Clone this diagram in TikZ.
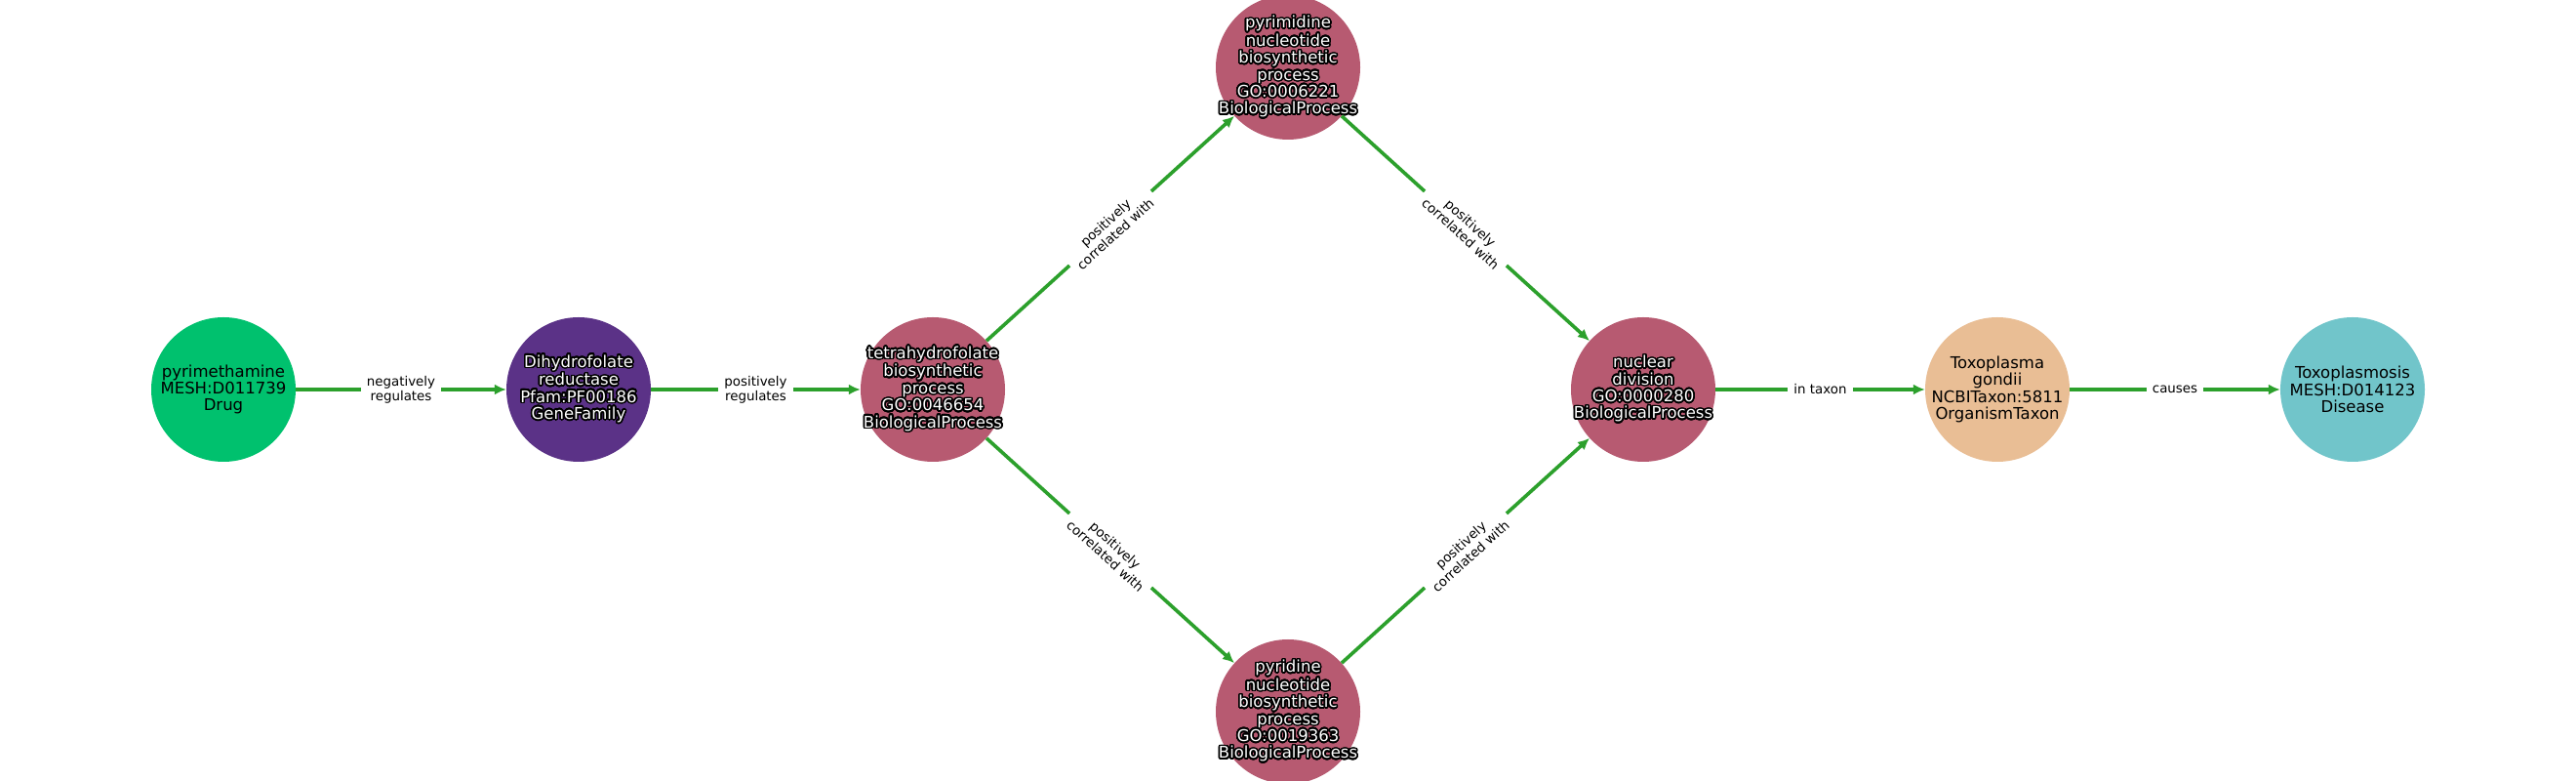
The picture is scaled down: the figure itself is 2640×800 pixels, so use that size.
\documentclass[tikz,border=0pt]{standalone}
\usepackage{fontspec}
\setmainfont{DejaVu Sans}
\usepackage{contour}
\contourlength{1.6pt}
\contournumber{32}
\usetikzlibrary{arrows.meta}
\definecolor{edgegreen}{HTML}{2CA02C}
\definecolor{drugc}{HTML}{00C16E}
\definecolor{genec}{HTML}{5B3287}
\definecolor{bioc}{HTML}{B75A71}
\definecolor{taxc}{HTML}{E9BE95}
\definecolor{disc}{HTML}{71C5CA}
\newcommand\outl[1]{\contour{black}{#1}}
\tikzset{
  ent/.style={circle, minimum size=148pt, inner sep=0pt},
  etext/.style={inner sep=0pt, align=center, text=black,
    font=\fontsize{16.5}{17.4}\selectfont},
  darktext/.style={etext, text=white},
  rel/.style={draw=edgegreen, line width=3.6pt, -{Latex[length=12pt,width=11pt]}},
  rlab/.style={midway, fill=white, align=center, inner xsep=6pt, inner ysep=2pt,
    font=\fontsize{13.4}{15}\selectfont, text=black}
}
\begin{document}
\begin{tikzpicture}[x=1pt,y=1pt]
\useasboundingbox (0,0) rectangle (2640,800);
\fill[white] (0,0) rectangle (2640,800);
\node[ent, fill=drugc] (A) at (229,401) {};
\node[ent, fill=genec] (B) at (593,401) {};
\node[ent, fill=bioc] (C) at (956,401) {};
\node[ent, fill=bioc] (D) at (1320,731) {};
\node[ent, fill=bioc] (H) at (1320,71) {};
\node[ent, fill=bioc] (E) at (1684,401) {};
\node[ent, fill=taxc] (F) at (2047,401) {};
\node[ent, fill=disc] (G) at (2411,401) {};
\node[etext] (At) at (A) {pyrimethamine\\MESH:D011739\\Drug};
\node[darktext] (Bt) at (B) {\outl{Dihydrofolate}\\\outl{reductase}\\\outl{Pfam:PF00186}\\\outl{GeneFamily}};
\node[darktext] (Ct) at (C) {\outl{tetrahydrofolate}\\\outl{biosynthetic}\\\outl{process}\\\outl{GO:0046654}\\\outl{BiologicalProcess}};
\node[darktext] (Dt) at (D) {\outl{pyrimidine}\\\outl{nucleotide}\\\outl{biosynthetic}\\\outl{process}\\\outl{GO:0006221}\\\outl{BiologicalProcess}};
\node[darktext] (Ht) at (H) {\outl{pyridine}\\\outl{nucleotide}\\\outl{biosynthetic}\\\outl{process}\\\outl{GO:0019363}\\\outl{BiologicalProcess}};
\node[darktext] (Et) at (E) {\outl{nuclear}\\\outl{division}\\\outl{GO:0000280}\\\outl{BiologicalProcess}};
\node[etext] (Ft) at (F) {Toxoplasma\\gondii\\NCBITaxon:5811\\OrganismTaxon};
\node[etext] (Gt) at (G) {Toxoplasmosis\\MESH:D014123\\Disease};
\draw[rel] (A) -- node[rlab] {negatively\\regulates} (B);
\draw[rel] (B) -- node[rlab] {positively\\regulates} (C);
\draw[rel] (C) -- node[rlab, sloped] {positively\\correlated with} (D);
\draw[rel] (C) -- node[rlab, sloped] {positively\\correlated with} (H);
\draw[rel] (D) -- node[rlab, sloped] {positively\\correlated with} (E);
\draw[rel] (H) -- node[rlab, sloped] {positively\\correlated with} (E);
\draw[rel] (E) -- node[rlab] {in taxon} (F);
\draw[rel] (F) -- node[rlab] {causes} (G);
\end{tikzpicture}
\end{document}
